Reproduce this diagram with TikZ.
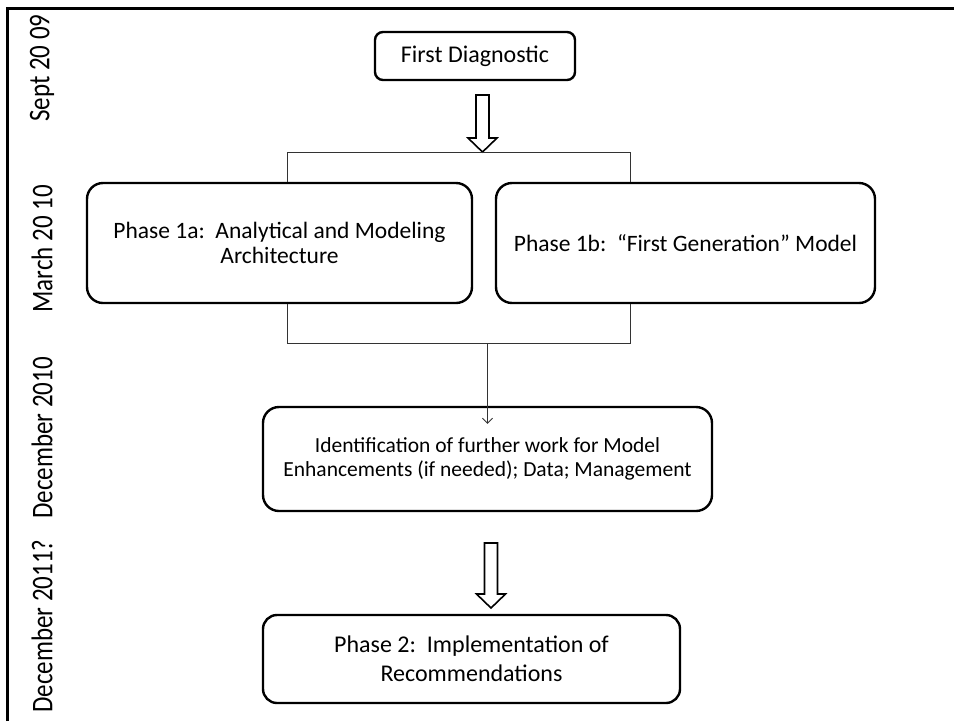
\documentclass[tikz,border=0pt]{standalone}
\usepackage{fontspec}
\setmainfont{Carlito}
\usetikzlibrary{arrows.meta}
\newcommand\blockarrow[3]{%
  \draw[line width=1.6pt, line join=miter] (#1-6.5,#2) -- (#1+6.5,#2) -- (#1+6.5,#3-14) -- (#1+14.5,#3-14)
    -- (#1,#3) -- (#1-14.5,#3-14) -- (#1-6.5,#3-14) -- cycle;}
\begin{document}
\begin{tikzpicture}[x=1pt,y=-1pt,
    box/.style={draw, line width=2.4pt, rounded corners=16pt, align=center, inner sep=0pt,
                font=\fontsize{23.5}{25}\selectfont},
    joint/.style={draw=black!80, line width=0.8pt},
    datelbl/.style={rotate=90, font=\fontsize{25}{25}\selectfont}]
      \useasboundingbox (0,0) rectangle (954,721);
      \draw[line width=3pt] (7,721) -- (7,8) -- (954,8);
      \node[datelbl] (d1) at (42,68) {\scalebox{1}[1.2]{Sept 20 09}};
      \node[datelbl] (d2) at (42,249) {\scalebox{1}[1.2]{March 20 10}};
      \node[datelbl] (d3) at (42,438) {\scalebox{1}[1.2]{December 2010}};
      \node[datelbl] (d4) at (42,626) {\scalebox{1}[1.2]{December 2011?}};
      \node[box, rounded corners=8pt, minimum width=200pt, minimum height=48pt, font=\fontsize{24}{25}\selectfont] (diag) at (475,56) {First Diagnostic};
      \node[box, minimum width=385pt, minimum height=120pt] (p1a) at (279.5,243) {Phase 1a:\ \ Analytical and Modeling\\Architecture};
      \node[box, minimum width=379pt, minimum height=120pt] (p1b) at (685.5,243) {Phase 1b:\ \ “First Generation” Model};
      \node[box, minimum width=449pt, minimum height=104pt, font=\fontsize{21.5}{24}\selectfont] (ident) at (487.5,459) {Identification of further work for Model\\Enhancements (if needed); Data; Management};
      \node[box, rounded corners=14pt, minimum width=417pt, minimum height=88pt, font=\fontsize{24}{29}\selectfont] (p2) at (471.5,659) {Phase 2:\ \ Implementation of\\Recommendations};
      \coordinate (tl) at (287,152);
      \coordinate (tr) at (630,152);
      \coordinate (bl) at (287,343);
      \coordinate (br) at (630,343);
      \blockarrow{482.5}{95}{152}
      \blockarrow{491}{543}{608}
      \draw[joint] (p1a.north -| tl) -- (tl) -- (tr) -- (p1b.north -| tr);
      \draw[joint] (p1a.south -| bl) -- (bl) -- (br) -- (p1b.south -| br);
      \draw[joint, -{Straight Barb[length=5pt,width=10pt]}] (bl -| ident.north) -- ([yshift=-18pt]ident.north);
    \end{tikzpicture}
\end{document}
